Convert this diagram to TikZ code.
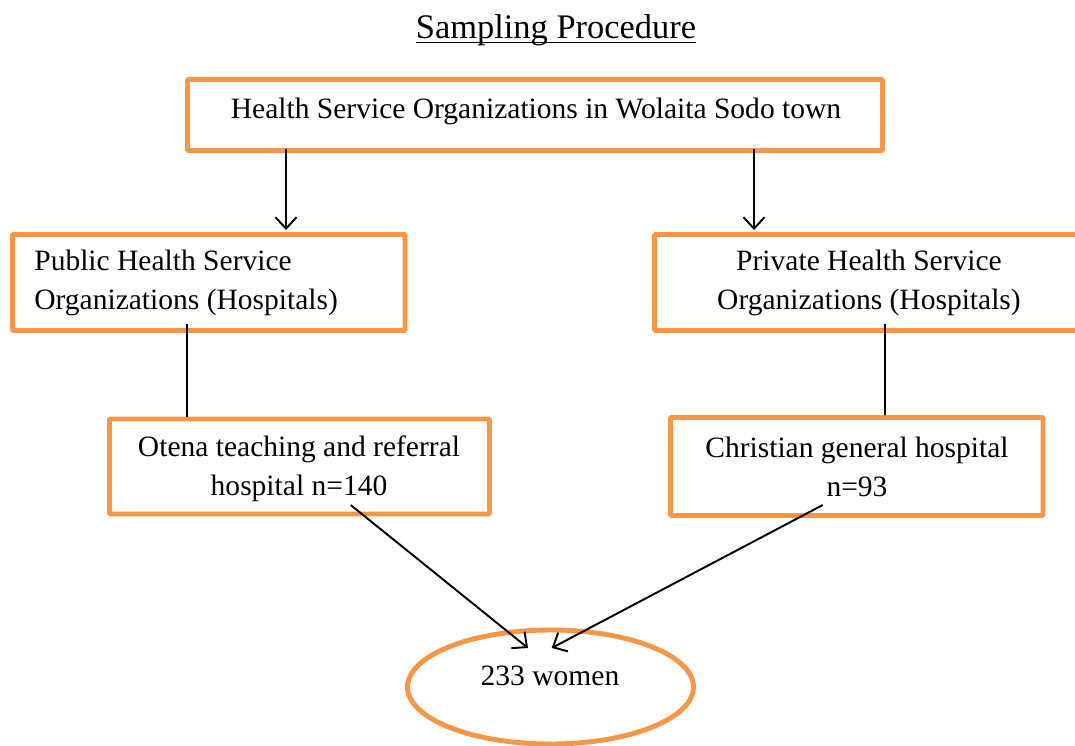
\documentclass[tikz,border=0pt]{standalone}
\usepackage{fontspec}
\setmainfont{Liberation Serif}
\usetikzlibrary{shapes.geometric,arrows.meta}
\definecolor{acc}{HTML}{F79646}
\begin{document}
\begin{tikzpicture}[x=0.02cm,y=-0.02cm,
  box/.style={draw=acc,line width=2.8pt,rectangle,inner sep=0pt,rounded corners=0.6pt},
  txt/.style={inner sep=0pt,anchor=base,font=\fontsize{16.8}{20}\selectfont},
  txtl/.style={txt,anchor=base west},
  conn/.style={draw=black,line width=1.1pt},
  arr/.style={conn,-{Straight Barb[length=6.5pt,width=12pt,line width=1.1pt]}}]
\useasboundingbox (0,0) rectangle (1075,745);
% title
\node[inner sep=0pt,anchor=base,font=\fontsize{19.6}{23}\selectfont] (title) at (556,38) {Sampling Procedure};
\draw[line width=1.1pt] ([yshift=-0.09cm]title.base west) -- ([yshift=-0.09cm]title.base east);
% boxes
\node[box,minimum width=695*0.02cm,minimum height=71*0.02cm] (top) at (535,115) {};
\node[box,minimum width=392.5*0.02cm,minimum height=96*0.02cm] (pub) at (208.75,282.5) {};
\node[box,minimum width=429*0.02cm,minimum height=96*0.02cm] (priv) at (869,282.5) {};
\node[box,minimum width=380*0.02cm,minimum height=95*0.02cm] (ote) at (299.5,466.5) {};
\node[box,minimum width=372.5*0.02cm,minimum height=98*0.02cm] (chr) at (856.75,466.5) {};
\node[draw=acc,line width=2.8pt,ellipse,inner sep=0pt,minimum width=286*0.02cm,minimum height=114*0.02cm] (women) at (550.5,687) {};
% texts
\node[txt] (toptxt) at (536,118) {Health Service Organizations in Wolaita Sodo town};
\node[txtl] (pubA) at (34,270) {Public Health Service};
\node[txtl] (pubB) at (34,309) {Organizations (Hospitals)};
\node[txt] (privA) at (869,270) {Private Health Service};
\node[txt] (privB) at (869,309) {Organizations (Hospitals)};
\node[txt] (oteA) at (299,456.7) {Otena teaching and referral};
\node[txt] (oteB) at (299,495.7) {hospital n=140};
\node[txt] (chrA) at (857,457) {Christian general hospital};
\node[txt] (chrB) at (857,496) {n=93};
\node[txt] (womtxt) at (550,685) {233 women};
% connectors
\draw[arr] ([shift={(-249,-4)}]top.south) -- ([shift={(77.25,-2)}]pub.north);
\draw[arr] ([shift={(219,-4)}]top.south) -- ([shift={(-115,-2)}]priv.north);
\draw[conn] ([shift={(-21.75,-9)}]pub.south) -- ([shift={(-112.5,0)}]ote.north);
\draw[conn] ([shift={(16,-9)}]priv.south) -- ([shift={(28.25,0)}]chr.north);
\draw[arr] ([shift={(51.2,38.5)}]ote.center) -- ([shift={(-22.5,-39)}]women.center);
\draw[arr] ([shift={(-34,38.5)}]chr.center) -- ([shift={(1.2,-39)}]women.center);
\end{tikzpicture}
\end{document}
